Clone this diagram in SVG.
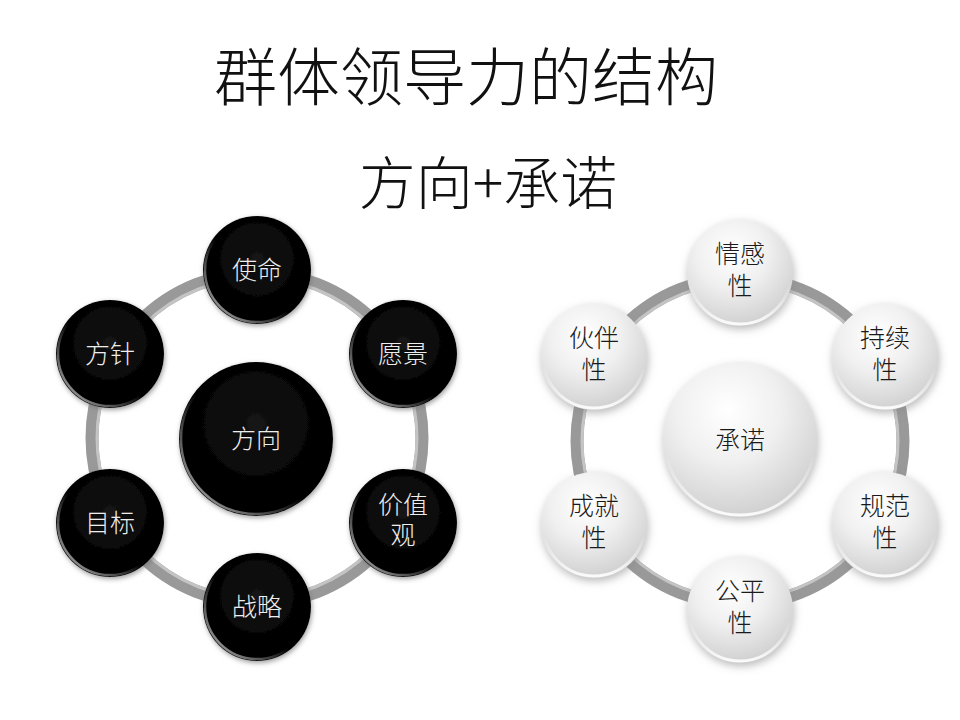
<svg xmlns="http://www.w3.org/2000/svg" width="960" height="720" viewBox="0 0 960 720">
<defs>
  <radialGradient id="darkFill" cx="50%" cy="40%" r="60%">
    <stop offset="0" stop-color="#141414"/>
    <stop offset="0.75" stop-color="#020202"/>
    <stop offset="1" stop-color="#000"/>
  </radialGradient>
  <linearGradient id="darkRim" x1="1" y1="0" x2="0" y2="1">
    <stop offset="0" stop-color="#000"/>
    <stop offset="0.55" stop-color="#000"/>
    <stop offset="1" stop-color="#c8c8c8"/>
  </linearGradient>
  <radialGradient id="lightFill" cx="42%" cy="30%" r="75%">
    <stop offset="0" stop-color="#ffffff"/>
    <stop offset="0.45" stop-color="#f0f0f0"/>
    <stop offset="0.85" stop-color="#d6d6d6"/>
    <stop offset="1" stop-color="#cbcbcb"/>
  </radialGradient>
  <linearGradient id="lightRim" x1="0" y1="0" x2="0" y2="1">
    <stop offset="0" stop-color="#ffffff" stop-opacity="0"/>
    <stop offset="0.6" stop-color="#ffffff" stop-opacity="0"/>
    <stop offset="1" stop-color="#ffffff" stop-opacity="0.9"/>
  </linearGradient>
  <filter id="shDark" x="-30%" y="-30%" width="160%" height="160%">
    <feDropShadow dx="1" dy="2" stdDeviation="2.5" flood-color="#777" flood-opacity="0.7"/>
  </filter>
  <filter id="shLight" x="-30%" y="-30%" width="160%" height="160%">
    <feDropShadow dx="1" dy="3" stdDeviation="4" flood-color="#8a8a8a" flood-opacity="0.6"/>
  </filter>
  <style>
    .title{font-family:"Noto Sans CJK SC","Noto Sans CJK JP",sans-serif;font-weight:300;fill:#111;text-anchor:middle}
    .lblW{font-family:"Liberation Sans","Noto Sans CJK SC","Noto Sans CJK JP",sans-serif;font-weight:300;font-size:25px;fill:#eeeeee;text-anchor:middle}
    .lblD{font-family:"Liberation Sans","Noto Sans CJK SC","Noto Sans CJK JP",sans-serif;font-weight:300;font-size:25px;fill:#1a1a1a;text-anchor:middle}
    .ring{fill:none;stroke:#999;stroke-width:13}
    .ringHi{fill:none;stroke:#c4c4c4;stroke-width:3}
    .dark{fill:url(#darkFill);filter:url(#shDark)}
    .darkRim{fill:none;stroke:url(#darkRim);stroke-width:2.5}
    .light{fill:url(#lightFill);filter:url(#shLight)}
    .lightRim{fill:none;stroke:url(#lightRim);stroke-width:3}
  </style>
</defs>
<rect width="960" height="720" fill="#fff"/>

<g id="titles">
  <text class="title" x="466" y="100" font-size="63">群体领导力的结构</text>
  <text class="title" x="488" y="204" font-size="57">方向+承诺</text>
</g>

<g id="connectors">
  <circle class="ring" cx="257" cy="438" r="165"/>
  <circle class="ringHi" cx="257" cy="438" r="160"/>
  <circle class="ring" cx="740" cy="441" r="163"/>
  <circle class="ringHi" cx="740" cy="441" r="158"/>
</g>

<g id="left">
  <g id="n-fangxiang">
    <circle class="dark" cx="256" cy="439" r="77"/>
    <circle class="darkRim" cx="256" cy="439" r="75"/>
    <text class="lblW" x="256" y="448">方向</text>
  </g>
  <g id="n-shiming">
    <circle class="dark" cx="257" cy="270" r="54"/>
    <circle class="darkRim" cx="257" cy="270" r="52"/>
    <text class="lblW" x="257" y="279">使命</text>
  </g>
  <g id="n-yuanjing">
    <circle class="dark" cx="403" cy="354" r="54"/>
    <circle class="darkRim" cx="403" cy="354" r="52"/>
    <text class="lblW" x="403" y="363">愿景</text>
  </g>
  <g id="n-jiazhiguan">
    <circle class="dark" cx="403" cy="523" r="54"/>
    <circle class="darkRim" cx="403" cy="523" r="52"/>
    <text class="lblW" x="403" y="514">价值<tspan x="403" dy="30">观</tspan></text>
  </g>
  <g id="n-zhanlue">
    <circle class="dark" cx="257" cy="607" r="54"/>
    <circle class="darkRim" cx="257" cy="607" r="52"/>
    <text class="lblW" x="257" y="616">战略</text>
  </g>
  <g id="n-mubiao">
    <circle class="dark" cx="110" cy="523" r="54"/>
    <circle class="darkRim" cx="110" cy="523" r="52"/>
    <text class="lblW" x="110" y="532">目标</text>
  </g>
  <g id="n-fangzhen">
    <circle class="dark" cx="110" cy="354" r="54"/>
    <circle class="darkRim" cx="110" cy="354" r="52"/>
    <text class="lblW" x="110" y="363">方针</text>
  </g>
</g>

<g id="right">
  <g id="n-chengnuo">
    <circle class="light" cx="740" cy="440" r="77"/>
    <circle class="lightRim" cx="740" cy="440" r="75"/>
    <text class="lblD" x="740" y="449">承诺</text>
  </g>
  <g id="n-qinggan">
    <circle class="light" cx="740" cy="273" r="53"/>
    <circle class="lightRim" cx="740" cy="273" r="51"/>
    <text class="lblD" x="740" y="263">情感<tspan x="740" dy="32">性</tspan></text>
  </g>
  <g id="n-chixu">
    <circle class="light" cx="885" cy="357" r="53"/>
    <circle class="lightRim" cx="885" cy="357" r="51"/>
    <text class="lblD" x="885" y="347">持续<tspan x="885" dy="32">性</tspan></text>
  </g>
  <g id="n-guifan">
    <circle class="light" cx="885" cy="525" r="53"/>
    <circle class="lightRim" cx="885" cy="525" r="51"/>
    <text class="lblD" x="885" y="515">规范<tspan x="885" dy="32">性</tspan></text>
  </g>
  <g id="n-gongping">
    <circle class="light" cx="740" cy="610" r="53"/>
    <circle class="lightRim" cx="740" cy="610" r="51"/>
    <text class="lblD" x="740" y="600">公平<tspan x="740" dy="32">性</tspan></text>
  </g>
  <g id="n-chengjiu">
    <circle class="light" cx="594" cy="525" r="53"/>
    <circle class="lightRim" cx="594" cy="525" r="51"/>
    <text class="lblD" x="594" y="515">成就<tspan x="594" dy="32">性</tspan></text>
  </g>
  <g id="n-huoban">
    <circle class="light" cx="594" cy="357" r="53"/>
    <circle class="lightRim" cx="594" cy="357" r="51"/>
    <text class="lblD" x="594" y="347">伙伴<tspan x="594" dy="32">性</tspan></text>
  </g>
</g>
</svg>
